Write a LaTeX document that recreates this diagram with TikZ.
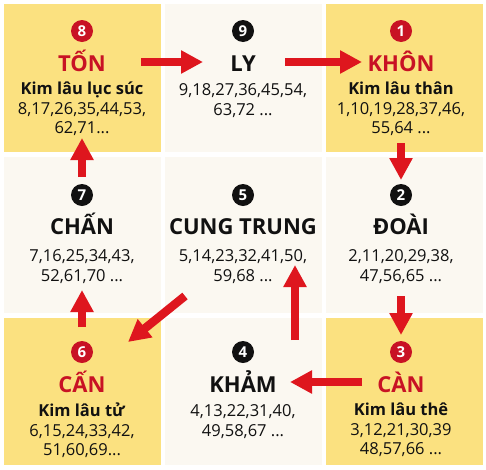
\documentclass[tikz,border=0pt]{standalone}
\usepackage{fontspec}
\setmainfont{Open Sans}
\usetikzlibrary{arrows.meta}
\definecolor{vang}{RGB}{251,225,128}
\definecolor{kem}{RGB}{251,248,241}
\definecolor{dodam}{RGB}{200,18,36}
\definecolor{doten}{RGB}{222,22,30}
\definecolor{chuden}{RGB}{17,17,17}
\tikzset{
  o/.style={inner sep=0pt, outer sep=0pt},
  cell/.style={o, minimum width=157pt},
  oso/.style={o, circle, minimum size=22pt, text=white, font=\fontsize{15}{15}\selectfont\bfseries},
  sodo/.style={oso, fill=dodam},
  soden/.style={oso, fill=chuden},
  ten/.style={o, anchor=base, text=chuden, font=\fontsize{22}{22}\selectfont\bfseries},
  tendo/.style={ten, text=dodam},
  dong/.style={o, anchor=north, align=center, text=chuden, font=\fontsize{16.5}{19.5}\selectfont},
  muiten/.style={draw=doten, line width=8.5pt, -{Triangle[width=22pt,length=22pt]}}
}
\begin{document}
\begin{tikzpicture}[x=1pt,y=-1pt]
	\useasboundingbox[fill=white] (0,0) rectangle (486,469);
	% o cua cuu cung
	\node[cell, minimum height=148pt, fill=vang] (c8) at (82.5,78) {};
	\node[cell, minimum height=148pt, fill=kem] (c9) at (243.5,78) {};
	\node[cell, minimum height=148pt, fill=vang] (c1) at (404,78) {};
	\node[cell, minimum height=156pt, fill=kem] (c7) at (82.5,235) {};
	\node[cell, minimum height=156pt, fill=kem] (c5) at (243.5,235) {};
	\node[cell, minimum height=156pt, fill=kem] (c2) at (404,235) {};
	\node[cell, minimum height=147pt, fill=vang] (c6) at (82.5,391.5) {};
	\node[cell, minimum height=147pt, fill=kem] (c4) at (243.5,391.5) {};
	\node[cell, minimum height=147pt, fill=vang] (c3) at (404,391.5) {};
	% hang tren
	\node[sodo] (n8) at (82,31) {8};
	\node[tendo] (t8) at (82,71.5) {TỐN};
	\node[dong] (l8) at (82,82) {\textbf{Kim lâu lục súc}\\8,17,26,35,44,53,\\62,71...};
	\node[soden] (n9) at (243,31) {9};
	\node[ten] (t9) at (243,71.5) {LY};
	\node[dong] (l9) at (243,84) {9,18,27,36,45,54,\\63,72 ...};
	\node[sodo] (n1) at (401,31) {1};
	\node[tendo] (t1) at (401,71.5) {KHÔN};
	\node[dong] (l1) at (401,82) {\textbf{Kim lâu thân}\\1,10,19,28,37,46,\\55,64 ...};
	% hang giua
	\node[soden] (n7) at (82,195) {7};
	\node[ten] (t7) at (82,234.5) {CHẤN};
	\node[dong] (l7) at (82,250) {7,16,25,34,43,\\52,61,70 ...};
	\node[soden] (n5) at (243,195) {5};
	\node[ten] (t5) at (243,234.5) {CUNG TRUNG};
	\node[dong] (l5) at (243,250) {5,14,23,32,41,50,\\59,68 ...};
	\node[soden] (n2) at (401,195) {2};
	\node[ten] (t2) at (401,234.5) {ĐOÀI};
	\node[dong] (l2) at (401,250) {2,11,20,29,38,\\47,56,65 ...};
	% hang duoi
	\node[sodo] (n6) at (82,352) {6};
	\node[tendo] (t6) at (82,392) {CẤN};
	\node[dong] (l6) at (82,403) {\textbf{Kim lâu tử}\\6,15,24,33,42,\\51,60,69...};
	\node[soden] (n4) at (243,352) {4};
	\node[ten] (t4) at (243,392) {KHẢM};
	\node[dong] (l4) at (243,405) {4,13,22,31,40,\\49,58,67 ...};
	\node[sodo] (n3) at (401,352) {3};
	\node[tendo] (t3) at (401,392) {CÀN};
	\node[dong] (l3) at (401,403) {\textbf{Kim lâu thê}\\3,12,21,30,39\\48,57,66 ...};
	% mui ten
	\draw[muiten] ([shift={(59,31)}]n8.center) -- ([shift={(-40,31)}]n9.center);
	\draw[muiten] ([shift={(42,31)}]n9.center) -- ([shift={(-39,31)}]n1.center);
	\draw[muiten] ([shift={(0,112)}]n1.center) -- ([shift={(0,-15)}]n2.center);
	\draw[muiten] ([shift={(0,101)}]n2.center) -- ([shift={(0,-17)}]n3.center);
	\draw[muiten] ([shift={(-39,30)}]n3.center) -- ([shift={(47,30)}]n4.center);
	\draw[muiten] ([shift={(52,-12)}]n4.center) -- ([shift={(52,70)}]n5.center);
	\draw[muiten] ([shift={(-58,101)}]n5.center) -- ([shift={(46,-10)}]n6.center);
	\draw[muiten] ([shift={(0,-25)}]n6.center) -- ([shift={(0,95)}]n7.center);
	\draw[muiten] ([shift={(0,-18)}]n7.center) -- ([shift={(0,107)}]n8.center);
\end{tikzpicture}
\end{document}
